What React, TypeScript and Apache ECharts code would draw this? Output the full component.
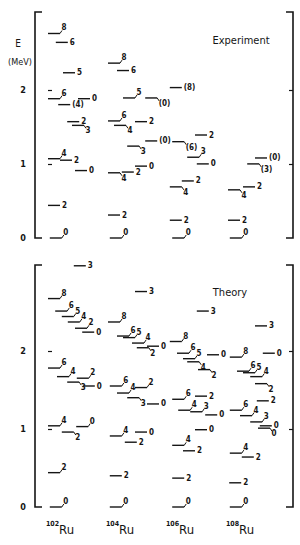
import React, { useEffect, useRef } from "react";
import * as echarts from "echarts";

type Pos = "r" | "u" | "d";
type Row = [number, number, string, Pos]; // [offset in column, energy MeV, spin label, label placement]

// ---------- data ----------
const NUCLEI = ["102", "104", "106", "108"];
const Y_TICKS = [0, 1, 2];
const PANEL_TITLES = ["Experiment", "Theory"];

// Experiment
const exp102: Row[] = [
  [0.03, 0.0, "0", "u"], [0.0, 0.44, "2", "r"], [0.0, 1.07, "4", "u"], [0.2, 1.05, "2", "r"],
  [0.45, 0.91, "0", "r"], [0.32, 1.57, "2", "r"], [0.4, 1.52, "3", "d"], [0.0, 1.88, "6", "u"],
  [0.17, 1.8, "(4)", "r"], [0.5, 1.88, "0", "r"], [0.25, 2.23, "5", "r"], [0.13, 2.64, "6", "r"],
  [0.0, 2.76, "8", "u"],
];
const exp104: Row[] = [
  [0.03, 0.0, "0", "u"], [0.0, 0.31, "2", "r"], [0.0, 0.88, "4", "d"], [0.23, 0.89, "2", "r"],
  [0.45, 0.97, "0", "r"], [0.32, 1.24, "3", "d"], [0.62, 1.31, "(0)", "r"], [0.0, 1.58, "6", "u"],
  [0.1, 1.52, "4", "d"], [0.45, 1.57, "2", "r"], [0.25, 1.89, "5", "u"], [0.62, 1.89, "(0)", "d"],
  [0.15, 2.26, "6", "r"], [0.0, 2.36, "8", "u"],
];
const exp106: Row[] = [
  [0.07, 0.0, "0", "u"], [0.03, 0.24, "2", "r"], [0.03, 0.69, "4", "d"], [0.23, 0.77, "2", "r"],
  [0.48, 1.0, "0", "r"], [0.32, 1.09, "3", "u"], [0.07, 1.3, "(6)", "d"], [0.45, 1.39, "2", "r"],
  [0.03, 2.03, "(8)", "r"],
];
const exp108: Row[] = [
  [0.03, 0.0, "0", "u"], [0.0, 0.24, "2", "r"], [0.0, 0.65, "4", "d"], [0.25, 0.69, "2", "r"],
  [0.32, 1.0, "(3)", "d"], [0.45, 1.08, "(0)", "r"],
];

// Theory
const th102: Row[] = [
  [0.03, 0.0, "0", "u"], [0.0, 0.44, "2", "u"], [0.0, 1.04, "4", "u"], [0.23, 0.96, "2", "d"],
  [0.47, 1.03, "0", "u"], [0.0, 1.78, "6", "u"], [0.15, 1.67, "4", "u"], [0.48, 1.65, "2", "u"],
  [0.32, 1.6, "3", "d"], [0.58, 1.55, "0", "r"], [0.0, 2.67, "8", "u"], [0.12, 2.51, "6", "u"],
  [0.23, 2.44, "5", "u"], [0.33, 2.37, "4", "u"], [0.45, 2.29, "2", "u"], [0.57, 2.24, "0", "r"],
  [0.43, 3.09, "3", "r"],
];
const th104: Row[] = [
  [0.03, 0.0, "0", "u"], [0.03, 0.4, "2", "r"], [0.03, 0.91, "4", "u"], [0.28, 0.83, "2", "r"],
  [0.45, 0.96, "0", "r"], [0.03, 1.55, "6", "u"], [0.15, 1.46, "4", "u"], [0.45, 1.53, "2", "u"],
  [0.32, 1.4, "3", "d"], [0.65, 1.32, "0", "r"], [0.0, 2.37, "8", "u"], [0.15, 2.19, "6", "u"],
  [0.25, 2.17, "5", "u"], [0.4, 2.1, "4", "u"], [0.48, 2.04, "2", "d"], [0.65, 2.06, "0", "r"],
  [0.45, 2.76, "3", "r"],
];
const th106: Row[] = [
  [0.07, 0.0, "0", "u"], [0.07, 0.37, "2", "r"], [0.07, 0.79, "4", "u"], [0.25, 0.72, "2", "r"],
  [0.45, 0.99, "0", "r"], [0.07, 1.38, "6", "u"], [0.45, 1.42, "2", "r"], [0.17, 1.24, "4", "u"],
  [0.37, 1.22, "3", "u"], [0.62, 1.18, "0", "r"], [0.03, 2.12, "8", "u"], [0.15, 1.97, "6", "u"],
  [0.25, 1.9, "5", "u"], [0.32, 1.86, "4", "d"], [0.5, 1.76, "2", "d"], [0.65, 1.95, "0", "r"],
  [0.48, 2.51, "3", "r"],
];
const th108: Row[] = [
  [0.03, 0.0, "0", "u"], [0.02, 0.31, "2", "r"], [0.03, 0.69, "4", "u"], [0.23, 0.64, "2", "r"],
  [0.03, 1.24, "6", "u"], [0.2, 1.17, "4", "u"], [0.37, 1.09, "3", "u"], [0.53, 1.04, "0", "r"],
  [0.5, 1.01, "0", "d"], [0.48, 1.36, "2", "r"], [0.03, 1.92, "8", "u"], [0.15, 1.74, "6", "u"],
  [0.25, 1.72, "5", "u"], [0.37, 1.67, "4", "u"], [0.45, 1.58, "2", "d"], [0.58, 1.97, "0", "r"],
  [0.45, 2.32, "3", "r"],
];

const expLevels = [exp102, exp104, exp106, exp108];
const thLevels = [th102, th104, th106, th108];

// ---------- styling ----------
const INK = "#151515";
const FONT = "'DejaVu Sans Condensed', 'DejaVu Sans', sans-serif";
const LEVEL_LEN = 0.2;
const X_MIN = -0.2167;
const X_MAX = 4.0833;

type Level = { x: number; e: number; label: string; pos: Pos };

function flatten(panel: Row[][]): Level[] {
  const out: Level[] = [];
  panel.forEach((rows, n) =>
    rows.forEach(([dx, e, label, pos]) => out.push({ x: n + dx, e, label, pos }))
  );
  return out;
}

function levelSeries(levels: Level[], gi: number) {
  return {
    type: "custom",
    coordinateSystem: "cartesian2d",
    xAxisIndex: gi,
    yAxisIndex: gi * 2,
    clip: false,
    silent: true,
    data: levels.map((l) => [l.x, l.e]),
    renderItem: (params: any, api: any) => {
      const l = levels[params.dataIndex];
      const a = api.coord([l.x, l.e]);
      const b = api.coord([l.x + LEVEL_LEN, l.e]);
      const children: any[] = [
        {
          type: "line",
          shape: { x1: a[0], y1: a[1], x2: b[0], y2: b[1] },
          style: { stroke: INK, lineWidth: 1.4 },
        },
      ];
      const txt = (x: number, y: number, va: string) => ({
        type: "text",
        style: {
          text: l.label,
          x,
          y,
          fill: INK,
          fontSize: 8,
          fontWeight: "bold",
          fontFamily: FONT,
          align: "left",
          verticalAlign: va,
        },
      });
      if (l.pos === "r") {
        children.push(txt(b[0] + 2, b[1], "middle"));
      } else if (l.pos === "u") {
        children.push({
          type: "line",
          shape: { x1: b[0], y1: b[1], x2: b[0] + 2, y2: b[1] - 3 },
          style: { stroke: INK, lineWidth: 1 },
        });
        children.push(txt(b[0] + 1.5, b[1] - 1.5, "bottom"));
      } else {
        children.push({
          type: "line",
          shape: { x1: b[0], y1: b[1], x2: b[0] + 2, y2: b[1] + 3 },
          style: { stroke: INK, lineWidth: 1 },
        });
        children.push(txt(b[0] + 1.5, b[1] + 1.5, "top"));
      }
      return { type: "group", children };
    },
  };
}

function bracketSeries(gi: number) {
  return {
    type: "custom",
    coordinateSystem: "cartesian2d",
    xAxisIndex: gi,
    yAxisIndex: gi * 2,
    clip: false,
    silent: true,
    data: [[0, 0]],
    renderItem: (params: any) => {
      const c = params.coordSys;
      const s = 7;
      const st = { stroke: INK, lineWidth: 1.6, fill: "none" };
      return {
        type: "group",
        children: [
          {
            type: "polyline",
            shape: { points: [[c.x + s, c.y], [c.x, c.y], [c.x, c.y + c.height], [c.x + s, c.y + c.height]] },
            style: st,
          },
          {
            type: "polyline",
            shape: {
              points: [
                [c.x + c.width - s, c.y],
                [c.x + c.width, c.y],
                [c.x + c.width, c.y + c.height],
                [c.x + c.width - s, c.y + c.height],
              ],
            },
            style: st,
          },
        ],
      };
    },
  };
}

function yAxes(gi: number, max: number) {
  const common = {
    type: "value",
    gridIndex: gi,
    min: 0,
    max,
    interval: 1,
    splitLine: { show: false },
    axisLine: { show: false },
  };
  return [
    {
      ...common,
      position: "left",
      axisTick: { show: true, inside: true, length: 4, customValues: [1, 2], lineStyle: { color: INK, width: 1.2 } },
      axisLabel: {
        show: true,
        customValues: Y_TICKS,
        color: INK,
        fontSize: 9,
        fontWeight: "bold",
        fontFamily: FONT,
        margin: 9,
      },
    },
    {
      ...common,
      position: "right",
      axisTick: { show: true, inside: true, length: 4, customValues: [1, 2], lineStyle: { color: INK, width: 1.2 } },
      axisLabel: { show: false },
    },
  ];
}

export default function App() {
  const ref = useRef<HTMLDivElement>(null);
  useEffect(() => {
    if (!ref.current) return;
    const chart = echarts.init(ref.current, undefined, { renderer: "svg" });
    const xCommon = {
      type: "value",
      min: X_MIN,
      max: X_MAX,
      splitLine: { show: false },
      axisLine: { show: false },
      axisTick: { show: false },
    };
    chart.setOption({
      animation: false,
      backgroundColor: "#ffffff",
      grid: [
        { left: 35, right: 7, top: 12, height: 226 },
        { left: 35, right: 7, top: 265, height: 242 },
      ],
      xAxis: [
        { ...xCommon, gridIndex: 0, axisLabel: { show: false } },
        {
          ...xCommon,
          gridIndex: 1,
          axisLabel: {
            show: true,
            customValues: NUCLEI.map((_, i) => i + 0.2),
            margin: 13,
            formatter: (v: number) => `{s|${NUCLEI[Math.round(v - 0.2)]}}{r|Ru}`,
            rich: {
              s: { fontSize: 7, fontWeight: "bold", fontFamily: FONT, color: INK, verticalAlign: "top", lineHeight: 16 },
              r: { fontSize: 13, fontFamily: FONT, color: INK, verticalAlign: "bottom", lineHeight: 16 },
            },
          },
        },
      ],
      yAxis: [...yAxes(0, 3.05), ...yAxes(1, 3.1)],
      graphic: [
        { type: "text", x: 18, y: 43, style: { text: "E", fill: INK, fontSize: 10, fontFamily: FONT, align: "center", verticalAlign: "middle" } },
        { type: "text", x: 20, y: 62, style: { text: "(MeV)", fill: INK, fontSize: 9, fontFamily: FONT, align: "center", verticalAlign: "middle" } },
        { type: "text", x: 241, y: 40, style: { text: PANEL_TITLES[0], fill: INK, fontSize: 11, fontFamily: FONT, align: "center", verticalAlign: "middle" } },
        { type: "text", x: 230, y: 292, style: { text: PANEL_TITLES[1], fill: INK, fontSize: 11, fontFamily: FONT, align: "center", verticalAlign: "middle" } },
      ],
      series: [
        bracketSeries(0),
        bracketSeries(1),
        levelSeries(flatten(expLevels), 0),
        levelSeries(flatten(thLevels), 1),
      ],
    });
    return () => chart.dispose();
  }, []);
  return (
    <div
      ref={ref}
      style={{ position: "absolute", left: 0, top: 0, width: 300, height: 545, background: "#fff" }}
    />
  );
}
